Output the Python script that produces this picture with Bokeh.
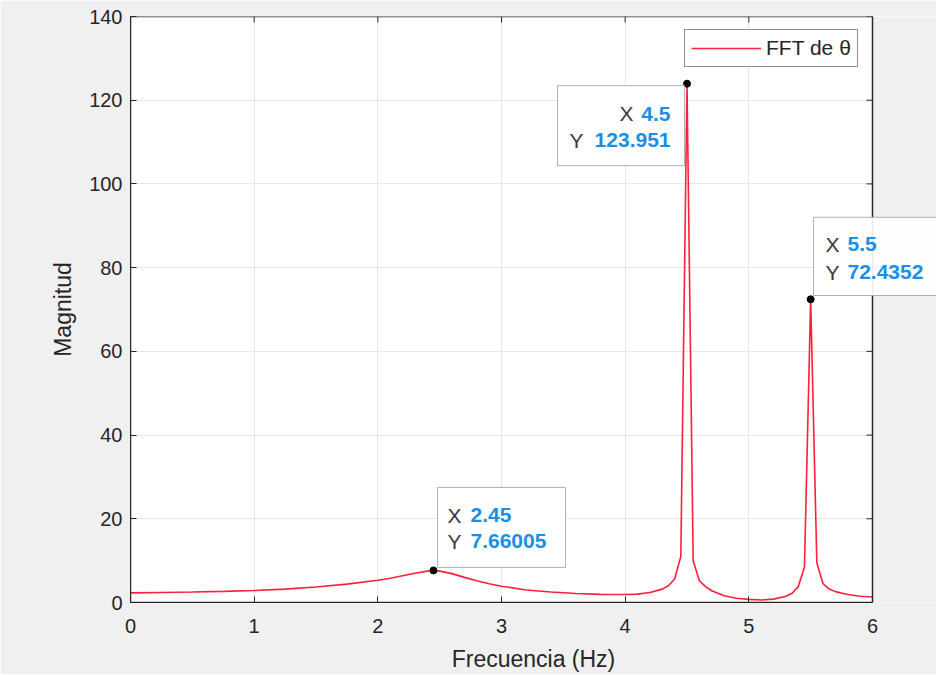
from bokeh.plotting import figure
from bokeh.models import Range1d, Label, BoxAnnotation, Legend, LegendItem, FixedTicker
from bokeh.embed import file_html
from bokeh.resources import INLINE

# ---- data ----
freq = [0.0, 0.25, 0.5, 0.75, 1.0, 1.25, 1.5, 1.75, 2.0, 2.1, 2.2, 2.3, 2.4, 2.45,
        2.5, 2.6, 2.7, 2.8, 2.9, 3.0, 3.2, 3.4, 3.6, 3.8, 4.0, 4.1, 4.2, 4.3, 4.35,
        4.4, 4.45, 4.5, 4.55, 4.6, 4.65, 4.7, 4.8, 4.9, 5.0, 5.1, 5.2, 5.3, 5.35,
        5.4, 5.45, 5.5, 5.55, 5.6, 5.65, 5.7, 5.8, 5.9, 6.0]
mag = [2.3, 2.4, 2.5, 2.65, 2.85, 3.2, 3.7, 4.4, 5.3, 5.8, 6.4, 7.0, 7.5, 7.66005,
       7.5, 6.9, 6.0, 5.2, 4.5, 3.9, 3.0, 2.5, 2.15, 1.95, 1.9, 2.0, 2.4, 3.2, 4.0,
       5.6, 11.0, 123.951, 10.0, 5.2, 3.8, 2.8, 1.6, 1.0, 0.75, 0.6, 0.8, 1.5, 2.2,
       3.8, 8.5, 72.4352, 9.5, 4.5, 3.2, 2.6, 1.9, 1.5, 1.3]

tip_x = [2.45, 4.5, 5.5]
tip_y = [7.66005, 123.951, 72.4352]
tip_xtext = ["2.45", "4.5", "5.5"]
tip_ytext = ["7.66005", "123.951", "72.4352"]

x_ticks = [0, 1, 2, 3, 4, 5, 6]
y_ticks = [0, 20, 40, 60, 80, 100, 120, 140]

x_title = "Frecuencia (Hz)"
y_title = "Magnitud"
legend_label = "FFT de θ"

# ---- layout / style ----
FW, FH = 742, 586          # visible axes box in px
EXTRA = 64                 # room to the right of the axes box (data tip overflows there)
X0, X1, Y0, Y1 = 0, 6, 0, 140
FONT = "Liberation Sans"
TXT = "#262626"
BLUE = "#1a8fe8"
RED = "#ff1f3a"
GRAY = "#f0f0f0"
TICK = 6

sx = FW / (X1 - X0)
sy = FH / (Y1 - Y0)

p = figure(frame_width=FW + EXTRA, frame_height=FH, output_backend="svg", toolbar_location=None,
           x_range=Range1d(X0, X1 + EXTRA / sx), y_range=Range1d(Y0, Y1),
           min_border_left=130, min_border_right=0, min_border_top=16, min_border_bottom=71)
p.border_fill_color = GRAY
p.background_fill_color = "white"
p.outline_line_color = None

for ax in (p.xaxis[0], p.yaxis[0]):
    ax.axis_line_color = TXT
    ax.major_tick_line_color = TXT
    ax.major_tick_in = TICK
    ax.major_tick_out = 0
    ax.minor_tick_line_color = None
    ax.major_label_text_font = FONT
    ax.major_label_text_font_size = "20px"
    ax.major_label_text_color = TXT
    ax.axis_label_text_font = FONT
    ax.axis_label_text_font_size = "23px"
    ax.axis_label_text_font_style = "normal"
    ax.axis_label_text_color = TXT

p.xaxis[0].ticker = FixedTicker(ticks=x_ticks)
p.yaxis[0].ticker = FixedTicker(ticks=y_ticks)
p.xaxis[0].bounds = (X0, X1)
p.xaxis[0].axis_label = x_title
p.yaxis[0].axis_label = y_title
p.xaxis[0].major_label_standoff = 16
p.yaxis[0].major_label_standoff = 8
p.xaxis[0].axis_label_standoff = 10
p.yaxis[0].axis_label_standoff = 10

p.xgrid.grid_line_color = "#e6e6e6"
p.ygrid.grid_line_color = "#e6e6e6"
p.xgrid.ticker = FixedTicker(ticks=x_ticks)
p.ygrid.ticker = FixedTicker(ticks=y_ticks)

# area right of the axes box painted like the figure background
p.add_layout(BoxAnnotation(left=X1, fill_color=GRAY, fill_alpha=1, line_color=None,
                           level="underlay"))

# inward ticks on the top and right edges of the axes box
p.segment(x0=x_ticks, y0=[Y1] * len(x_ticks), x1=x_ticks, y1=[Y1 - TICK / sy] * len(x_ticks),
          line_color=TXT, line_width=1)
p.segment(x0=[X1] * len(y_ticks), y0=y_ticks, x1=[X1 - TICK / sx] * len(y_ticks), y1=y_ticks,
          line_color=TXT, line_width=1)

line = p.line(freq, mag, line_color=RED, line_width=1.6)

# axes box outline (MATLAB "box on")
p.add_layout(BoxAnnotation(left=X0, right=X1, bottom=Y0, top=Y1, fill_color=None,
                           line_color=TXT, line_width=1.5, line_alpha=1))

# ---- data tips ----
# box offsets in screen px from the tip point: left, right, top, bottom (down = +)
box_off = [(4, 132, -83, -3), (-129.5, -2.5, 2, 82), (2.8, 160, -82, -3.8)]
for (tx, ty), (l, r, t, b) in zip(zip(tip_x, tip_y), box_off):
    p.add_layout(BoxAnnotation(left=tx + l / sx, right=tx + r / sx,
                               top=ty - t / sy, bottom=ty - b / sy,
                               fill_color="white", fill_alpha=0.9,
                               line_color="#b0b0b0", line_width=1, line_alpha=1))

# text offsets: (letter dx row1, letter dx row2, value dx, row1 dy, row2 dy, align)  (down = +)
txt_off = [(14, 14, 37, -55, -29, "left"), (-53.5, -103.5, -16.5, 30.3, 56.8, "right"),
           (14.8, 14.8, 36.8, -55.3, -27.3, "left")]
for i, (tx, ty) in enumerate(zip(tip_x, tip_y)):
    l1, l2, vdx, d1, d2, al = txt_off[i]
    rows = [("X", tip_xtext[i], d1, l1), ("Y", tip_ytext[i], d2, l2)]
    for letter, val, dy, lx in rows:
        p.add_layout(Label(x=tx, y=ty, x_offset=lx, y_offset=-dy, text=letter,
                           text_font=FONT, text_font_size="21px", text_color="#3a3a3a",
                           text_align=al, text_baseline="middle"))
        p.add_layout(Label(x=tx, y=ty, x_offset=vdx, y_offset=-dy, text=val,
                           text_font=FONT, text_font_size="21px", text_color=BLUE,
                           text_font_style="bold", text_align=al, text_baseline="middle"))

p.scatter(tip_x, tip_y, size=7, color="black")

# ---- legend ----
legend = Legend(items=[LegendItem(label=legend_label, renderers=[line])],
                location=(554, 535), margin=0, padding=6, spacing=0,
                glyph_width=70, glyph_height=20, label_height=20, label_standoff=5,
                label_text_font=FONT, label_text_font_size="21px", label_text_color=TXT,
                border_line_color=TXT, border_line_width=1, background_fill_color="white",
                background_fill_alpha=1)
p.add_layout(legend, "center")

open("out.html", "w").write(file_html(p, INLINE))
